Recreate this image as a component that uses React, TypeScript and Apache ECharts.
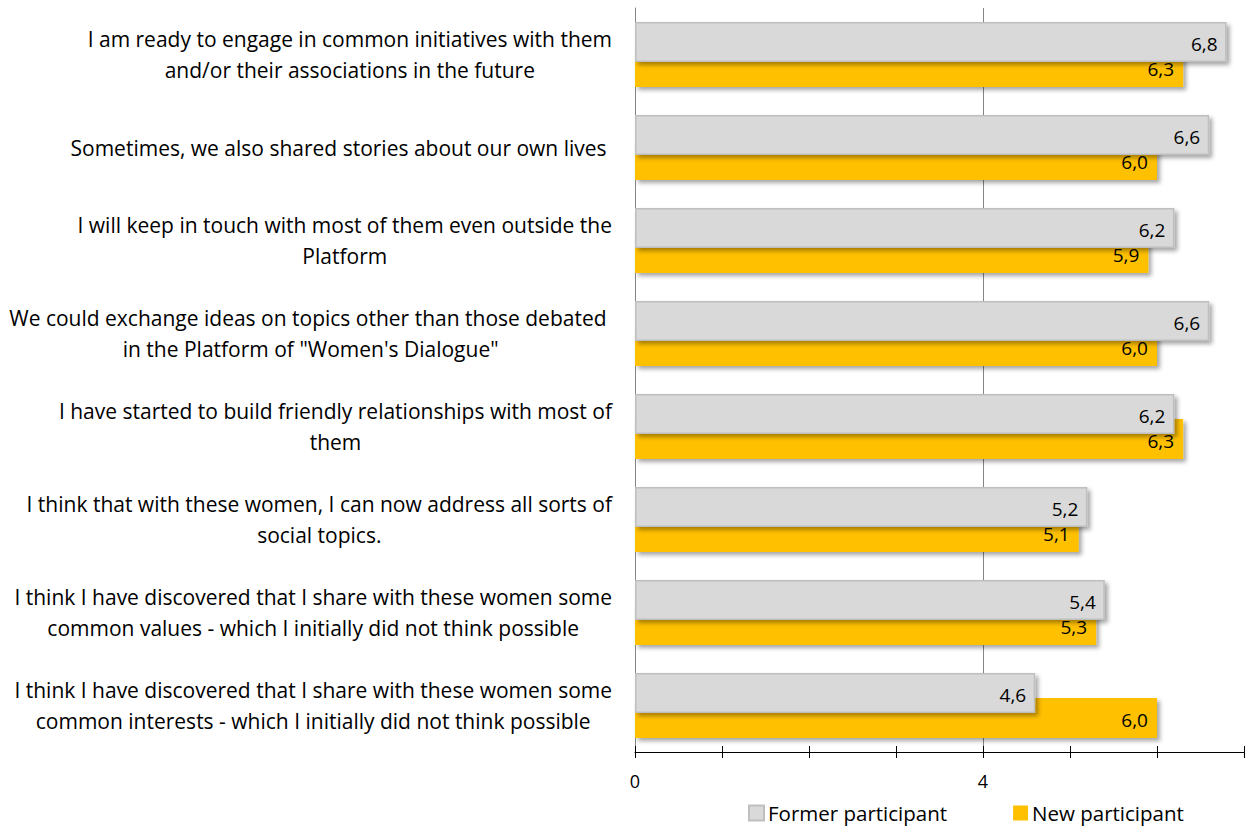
import React, { useEffect, useRef } from "react";
import * as echarts from "echarts";

const categories = [
  "I am ready to engage in common initiatives with them\nand/or their associations in the future",
  "Sometimes, we also shared stories about our own lives ",
  "I will keep in touch with most of them even outside the\nPlatform",
  "We could exchange ideas on topics other than those debated \nin the Platform of \"Women's Dialogue\"",
  "I have started to build friendly relationships with most of\nthem",
  "I think that with these women, I can now address all sorts of\nsocial topics.",
  "I think I have discovered that I share with these women some\ncommon values - which I initially did not think possible",
  "I think I have discovered that I share with these women some\ncommon interests - which I initially did not think possible",
];

const formerParticipant = [6.8, 6.6, 6.2, 6.6, 6.2, 5.2, 5.4, 4.6];
const newParticipant = [6.3, 6.0, 5.9, 6.0, 6.3, 5.1, 5.3, 6.0];

const xTickLabels = [0, 4];

const FONT = "'Open Sans', Lato, sans-serif";

export default function App() {
  const ref = useRef<HTMLDivElement>(null);

  useEffect(() => {
    if (!ref.current) return;
    const chart = echarts.init(ref.current, undefined, { renderer: "svg" });
    const fmt = (p: any) => Number(p.value).toFixed(1).replace(".", ",");
    const shadow = {
      shadowColor: "rgba(0,0,0,0.35)",
      shadowBlur: 4,
      shadowOffsetX: 3,
      shadowOffsetY: 3,
    };
    const xBase = { type: "value", min: 0, max: 7, position: "bottom" };
    const valueLabel = {
      show: true,
      position: "insideRight",
      distance: 9,
      offset: [0, 2],
      formatter: fmt,
      fontSize: 19,
      color: "#000",
      fontFamily: FONT,
    };
    chart.setOption({
      animation: false,
      textStyle: { fontFamily: FONT },
      grid: { left: 635, right: 2, top: 8, bottom: 77, containLabel: false },
      legend: {
        left: 748,
        top: 801,
        padding: 0,
        itemWidth: 15,
        itemHeight: 15,
        itemGap: 66,
        icon: "rect",
        data: ["Former participant", "New participant"],
        textStyle: {
          fontSize: 20.5,
          lineHeight: 24,
          color: "#000",
          fontFamily: FONT,
          padding: [0, 0, 0, -1],
        },
      },
      xAxis: [
        {
          ...xBase,
          interval: 1,
          axisLine: { show: true, lineStyle: { color: "#000", width: 1 } },
          axisTick: { show: true, length: 6, lineStyle: { color: "#000" } },
          axisLabel: {
            formatter: (v: number) => (xTickLabels.includes(v) ? String(v) : ""),
            fontSize: 18,
            color: "#000",
            margin: 20,
            fontFamily: FONT,
          },
          splitLine: { show: false },
        },
        {
          ...xBase,
          interval: 1,
          axisLine: { show: false },
          axisTick: { show: true, inside: true, length: 6, lineStyle: { color: "#000" } },
          axisLabel: { show: false },
          splitLine: { show: false },
        },
        {
          ...xBase,
          interval: 4,
          axisLine: { show: false },
          axisTick: { show: false },
          axisLabel: { show: false },
          splitLine: {
            show: true,
            showMinLine: false,
            showMaxLine: false,
            lineStyle: { color: "#868686", width: 1 },
          },
        },
      ],
      yAxis: {
        type: "category",
        inverse: true,
        data: categories,
        axisLine: { show: true, lineStyle: { color: "#868686" } },
        axisTick: { show: false },
        axisLabel: {
          margin: 23,
          align: "right",
          formatter: (v: string) =>
            v
              .split("\n")
              .map((l) => `{c|${l}}`)
              .join("\n"),
          rich: {
            c: {
              align: "center",
              fontSize: 21,
              lineHeight: 31,
              color: "#000",
              fontFamily: FONT,
            },
          },
        },
      },
      series: [
        {
          name: "Former participant",
          type: "bar",
          xAxisIndex: 0,
          data: formerParticipant,
          barWidth: 40,
          barGap: "-37.5%",
          z: 3,
          itemStyle: { color: "#D9D9D9", borderColor: "#BFBFBF", borderWidth: 1.5, ...shadow },
          label: valueLabel,
        },
        {
          name: "New participant",
          type: "bar",
          xAxisIndex: 0,
          data: newParticipant,
          barWidth: 40,
          barGap: "-37.5%",
          z: 2,
          itemStyle: { color: "#FFC000", ...shadow },
          label: valueLabel,
        },
      ],
    });
    return () => chart.dispose();
  }, []);

  return (
    <div
      ref={ref}
      style={{ position: "fixed", left: 0, top: 0, width: 1247, height: 829, background: "#fff" }}
    />
  );
}
